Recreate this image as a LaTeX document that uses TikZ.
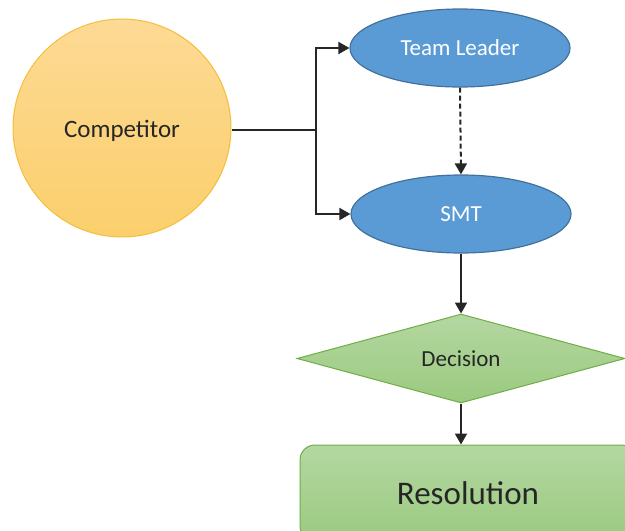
\documentclass[tikz,border=0pt]{standalone}
\usepackage{fontspec}
\setmainfont{Carlito}
\usetikzlibrary{shapes.geometric,arrows.meta}
\definecolor{txt}{HTML}{262626}
\definecolor{lnk}{HTML}{262626}
\definecolor{blfill}{HTML}{5B9BD5}
\definecolor{bledge}{HTML}{41719C}
\definecolor{ortop}{HTML}{FDDA95}
\definecolor{orbot}{HTML}{FBCF6C}
\definecolor{oredge}{HTML}{F3BF3A}
\definecolor{grtop}{HTML}{B4D7A2}
\definecolor{grbot}{HTML}{9ACA7F}
\definecolor{gredge}{HTML}{70AD47}
\tikzset{
  orb/.style={circle, inner sep=0pt, minimum size=218pt, top color=ortop, bottom color=orbot, draw=oredge, line width=1pt, text=txt},
  oval/.style={ellipse, inner sep=0pt, minimum width=220pt, minimum height=78pt, fill=blfill, draw=bledge, line width=1.2pt, text=white},
  choice/.style={diamond, aspect=3.7, inner sep=0pt, minimum width=328pt, minimum height=89pt, top color=grtop, bottom color=grbot, draw=gredge, line width=1pt, text=txt},
  endbox/.style={rectangle, rounded corners=15pt, inner sep=0pt, minimum width=336pt, minimum height=96pt, top color=grtop, bottom color=grbot, draw=gredge, line width=1pt, text=txt},
  link/.style={draw=lnk, line width=2pt, -{Triangle[length=11pt,width=12pt]}},
  plain/.style={draw=lnk, line width=2pt}
}
\begin{document}
\begin{tikzpicture}[x=1pt,y=-1pt]
\useasboundingbox (0,0) rectangle (625,531);
\clip (0,0) rectangle (625,531);
\node[orb] (comp) at (122,128) {\fontsize{25}{30}\selectfont\raisebox{-3pt}[17pt][5pt]{Competitor}};
\node[oval] (tl) at (460,48) {\fontsize{23}{28}\selectfont Team Leader};
\node[oval] (smt) at (461,214) {\fontsize{23}{28}\selectfont SMT};
\node[choice] (dec) at (461,358.5) {\fontsize{23}{28}\selectfont Decision};
\node[endbox] (res) at (468,493) {\fontsize{33}{40}\selectfont Resolution};
\coordinate (br) at (316,130);
\draw[plain] (comp.east |- br) -- (br);
\draw[link] (br) |- (tl.west);
\draw[link] (br) |- (smt.west);
\draw[link, dash pattern=on 5pt off 3pt] (tl.south) -- (smt.north);
\draw[link] (smt.south) -- (dec.north);
\draw[link] (dec.south) -- (dec.south |- res.north);
\end{tikzpicture}
\end{document}
